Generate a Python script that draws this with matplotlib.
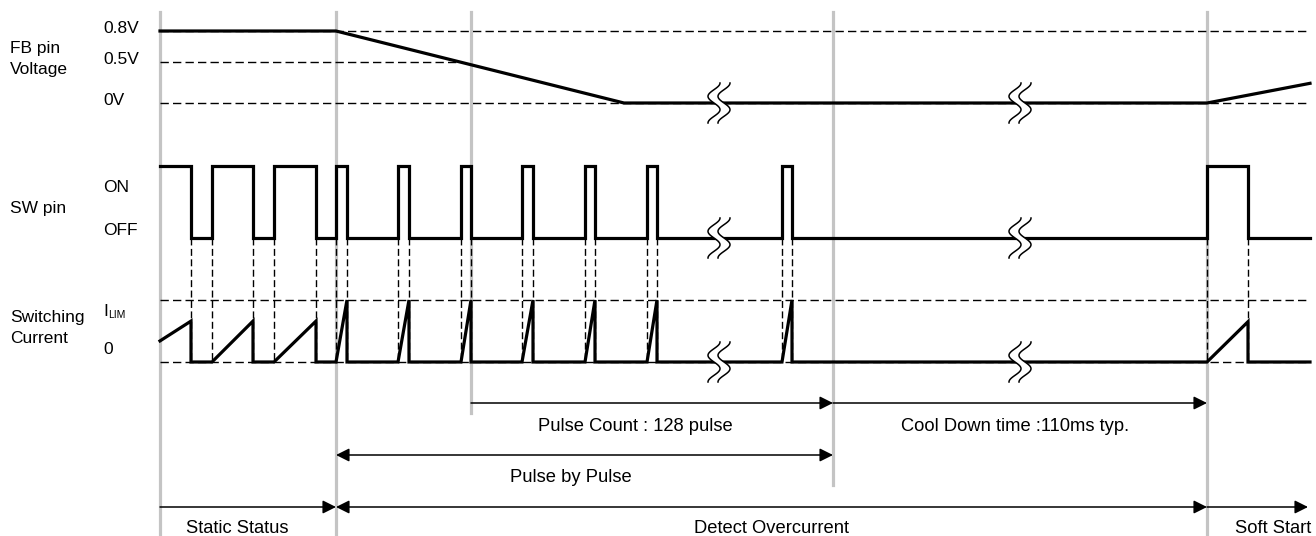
import numpy as np
import matplotlib.pyplot as plt

plt.rcParams['font.family'] = ['Liberation Sans', 'DejaVu Sans']

# time axis of the diagram (arbitrary units, left to right)
phase_t = [160, 336, 471, 833, 1207]
phase_bottom = [536, 536, 413, 485, 536]
t_start = 160
t_end = 1310
break_t = [719, 1020]

# FB pin voltage (V)
fb_t = [160, 336, 624, 1207, 1310]
fb_v = [0.8, 0.8, 0.0, 0.0, 0.24]
fb_levels = [0.8, 0.5, 0.0]
fb_labels = ['0.8V', '0.5V', '0V']

# SW pin pulses (rise / fall times)
sw_rise = [160, 212, 274, 336, 398, 461, 522, 585, 647, 782, 1207]
sw_fall = [191, 253, 316, 347, 409, 471, 533, 595, 657, 792, 1248]

# switching current, as a fraction of ILIM, at start and end of each pulse
i_start = [0.34, 0, 0, 0, 0, 0, 0, 0, 0, 0, 0]
i_peak = [0.66, 0.66, 0.66, 1, 1, 1, 1, 1, 1, 1, 0.65]

# period annotations: text, start, end, arrow style
spans_row1 = [('Pulse Count : 128 pulse', 471, 833, '-|>'),
              ('Cool Down time :110ms typ.', 833, 1207, '-|>')]
spans_row2 = [('Pulse by Pulse', 336, 833, '<|-|>')]
spans_row3 = [('Static Status', 160, 336, '-|>'),
              ('Detect Overcurrent', 336, 1207, '<|-|>'),
              ('Soft Start', 1207, 1308, '-|>')]
text_x1 = [635, 1015]
text_x2 = [571]
text_x3 = [237, 772, 1273]


def fb_y(v):
    return np.interp(v, [0.0, 0.5, 0.8], [103, 62, 31])


def sw_y(s):
    return 238 - 72 * np.asarray(s)


def cur_y(i):
    return 362 - 62 * np.asarray(i)


fig = plt.figure(figsize=(13.16, 5.36), dpi=100)
ax = fig.add_axes([0, 0, 1, 1])
ax.set_xlim(0, 1316)
ax.set_ylim(536, 0)
ax.axis('off')

TRACE = dict(color='black', lw=2.3, solid_joinstyle='miter', zorder=3)
DASH = dict(color='black', lw=1.0, dashes=(6, 3), zorder=2)

# phase marker lines
for x, yb in zip(phase_t, phase_bottom):
    ax.plot([x, x], [12, yb], color='#c4c4c4', lw=2.3, zorder=0)

# reference levels
ax.plot([t_start, t_end], [fb_y(0.8)] * 2, **DASH)
ax.plot([t_start, 458], [fb_y(0.5)] * 2, **DASH)
ax.plot([t_start, t_end], [fb_y(0.0)] * 2, **DASH)
ax.plot([t_start, t_end], [cur_y(1)] * 2, **DASH)
ax.plot([t_start, t_end], [cur_y(0)] * 2, **DASH)

# FB voltage
ax.plot(fb_t, fb_y(fb_v), **TRACE)

# SW pin
sx, ss = [t_start], [1]
for r, f in zip(sw_rise, sw_fall):
    if r > t_start:
        sx += [r, r]
        ss += [0, 1]
    sx += [f, f]
    ss += [1, 0]
sx.append(t_end)
ss.append(0)
ax.plot(sx, sw_y(ss), **TRACE)

# switching current
cx, ci = [], []
for r, f, a, b in zip(sw_rise, sw_fall, i_start, i_peak):
    cx += [r, f, f]
    ci += [a, b, 0]
cx.append(t_end)
ci.append(0)
ax.plot(cx, cur_y(ci), **TRACE)

# projection lines from SW edges down to current
for e in sw_rise[1:] + sw_fall:
    ax.plot([e, e], [sw_y(0), cur_y(0)], color='black', lw=1.0,
            dashes=(5, 2.5), zorder=2)


def break_mark(xc, yc):
    t = np.linspace(0, 1, 80)
    yy = yc - 20 + 40 * t
    dx = 6 * np.cos(3 * np.pi * t)
    x1 = xc - 5 + dx
    x2 = xc + 5 + dx
    ax.fill(np.r_[x1, x2[::-1]], np.r_[yy, yy[::-1]], color='white',
            lw=0, zorder=5)
    ax.plot(x1, yy, color='black', lw=1.1, zorder=6)
    ax.plot(x2, yy, color='black', lw=1.1, zorder=6)


for bt in break_t:
    break_mark(bt, fb_y(0.0))
    break_mark(bt, sw_y(0))
    break_mark(bt, cur_y(0))

# left labels
LBL = dict(fontsize=12.5, va='baseline', ha='left')
ax.text(10, 53, 'FB pin', **LBL)
ax.text(10, 74, 'Voltage', **LBL)
for v, s in zip(fb_levels, fb_labels):
    ax.text(103, fb_y(v) + 2, s, **LBL)
ax.text(10, 213, 'SW pin', **LBL)
ax.text(103, 192, 'ON', **LBL)
ax.text(103, 235, 'OFF', **LBL)
ax.text(10, 322, 'Switching', **LBL)
ax.text(10, 343, 'Current', **LBL)
ax.text(103, 316, 'I', **LBL)
ax.text(108, 318, 'LIM', fontsize=7.5, va='baseline', ha='left')
ax.text(103, 354, '0', **LBL)


def span_row(spans, xs, y_arrow, y_text):
    for (label, x0, x1, style), xt in zip(spans, xs):
        ax.annotate('', xy=(x1, y_arrow), xytext=(x0, y_arrow),
                    arrowprops=dict(arrowstyle=style, color='black', lw=1.1,
                                    shrinkA=0, shrinkB=0, mutation_scale=20))
        ax.text(xt, y_text, label, fontsize=13.2, ha='center', va='baseline')


span_row(spans_row1, text_x1, 403, 431)
span_row(spans_row2, text_x2, 455, 482)
span_row(spans_row3, text_x3, 507, 533)

fig.savefig('out.png', dpi=100)
